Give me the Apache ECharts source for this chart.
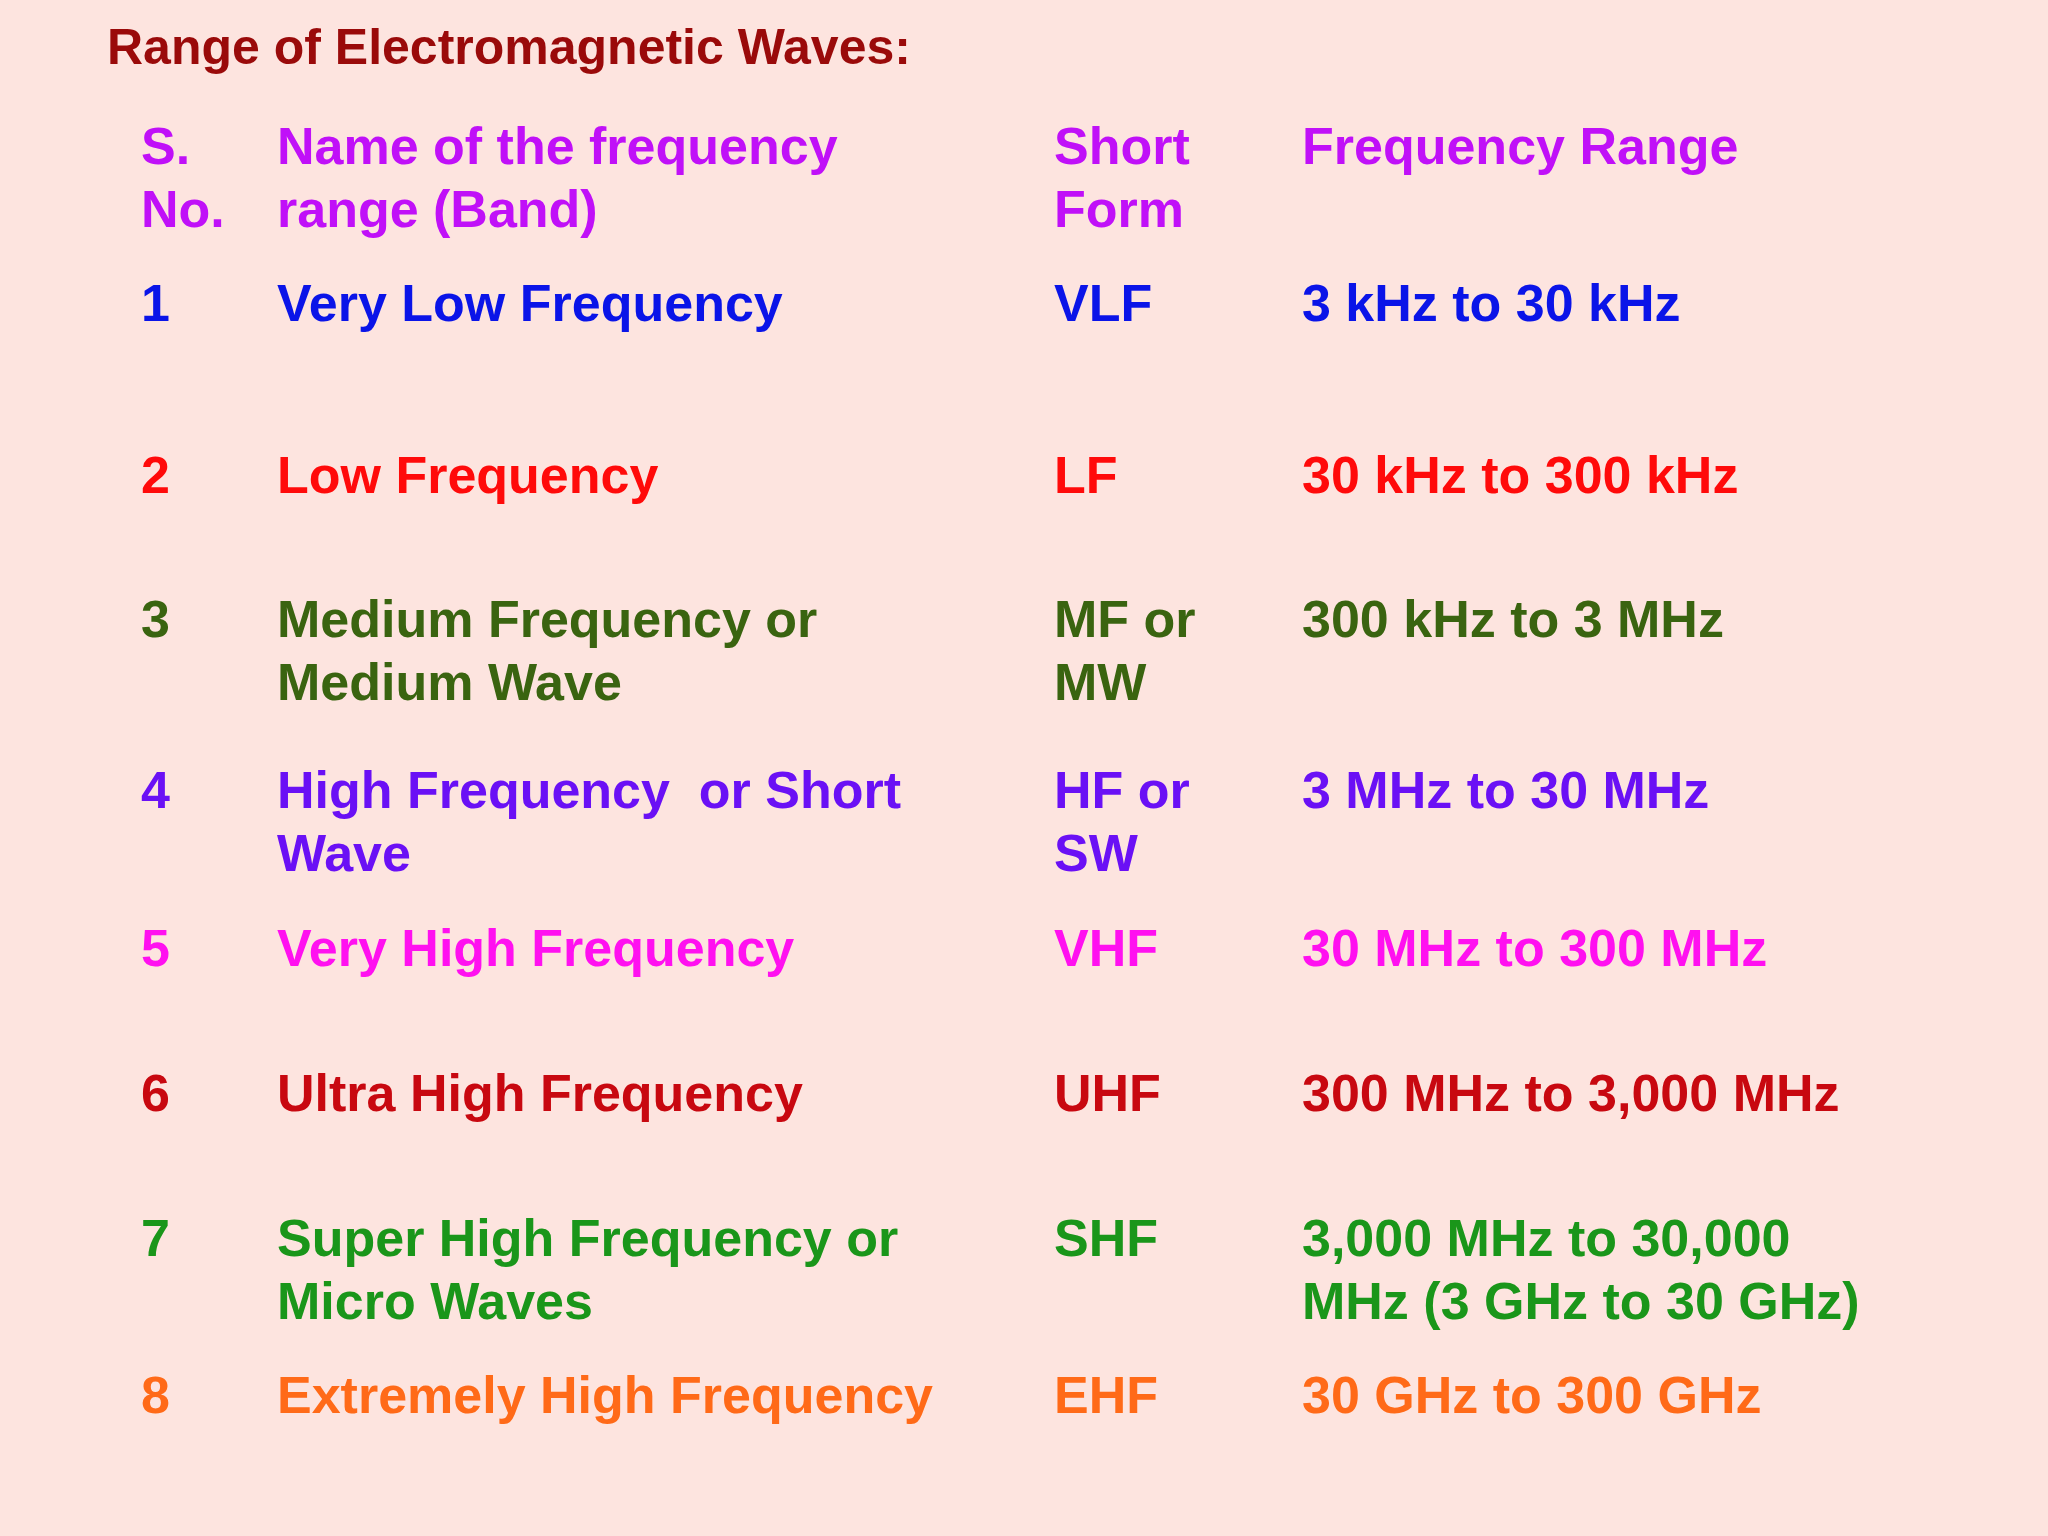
<!DOCTYPE html>
<html><head><meta charset="utf-8">
<script src="https://cdn.jsdelivr.net/npm/echarts@6/dist/echarts.min.js"></script>
<style>html,body{margin:0;padding:0;background:#fde4df}#c{width:2048px;height:1536px}</style>
</head><body><div id="c"></div>
<script>
const title = "Range of Electromagnetic Waves:";
const headers = ["S.\nNo.", "Name of the frequency\nrange (Band)", "Short\nForm", "Frequency Range"];
const serialNos = ["1","2","3","4","5","6","7","8"];
const bandNames = ["Very Low Frequency","Low Frequency","Medium Frequency or\nMedium Wave","High Frequency  or Short\nWave","Very High Frequency","Ultra High Frequency","Super High Frequency or\nMicro Waves","Extremely High Frequency"];
const shortForms = ["VLF","LF","MF or\nMW","HF or\nSW","VHF","UHF","SHF","EHF"];
const ranges = ["3 kHz to 30 kHz","30 kHz to 300 kHz","300 kHz to 3 MHz","3 MHz to 30 MHz","30 MHz to 300 MHz","300 MHz to 3,000 MHz","3,000 MHz to 30,000\nMHz (3 GHz to 30 GHz)","30 GHz to 300 GHz"];
const rowColors = ["#0a14e8","#ff0a0a","#3a6410","#6a10f5","#ff10f0","#c80810","#1a961a","#ff6a18"];
const rowY = [307,479,623,794,952,1097,1242,1399];

const colX = [141,277,1054,1302];
const LH = 63, FS = 52, FONT = '"Liberation Sans", Arial, sans-serif';
function txt(x, yc, s, color, size){
  return {type:'text', left:x, top:yc - LH/2, style:{text:s, fill:color, font:'bold '+(size||FS)+'px '+FONT, lineHeight:LH}};
}
const els = [{type:'rect', shape:{x:0,y:0,width:2048,height:1536}, style:{fill:'#fde4df'}, z:-1}];
els.push(txt(107, 50, title, '#9a0a0a', 50));
headers.forEach((h,i)=>els.push(txt(colX[i],150,h,'#c010f8')));
serialNos.forEach((s,i)=>{
  const c=rowColors[i], y=rowY[i];
  els.push(txt(colX[0],y,s,c), txt(colX[1],y,bandNames[i],c), txt(colX[2],y,shortForms[i],c), txt(colX[3],y,ranges[i],c));
});
const chart = echarts.init(document.getElementById('c'));
chart.setOption({backgroundColor:'#fde4df', graphic:{elements:els}});
</script></body></html>
